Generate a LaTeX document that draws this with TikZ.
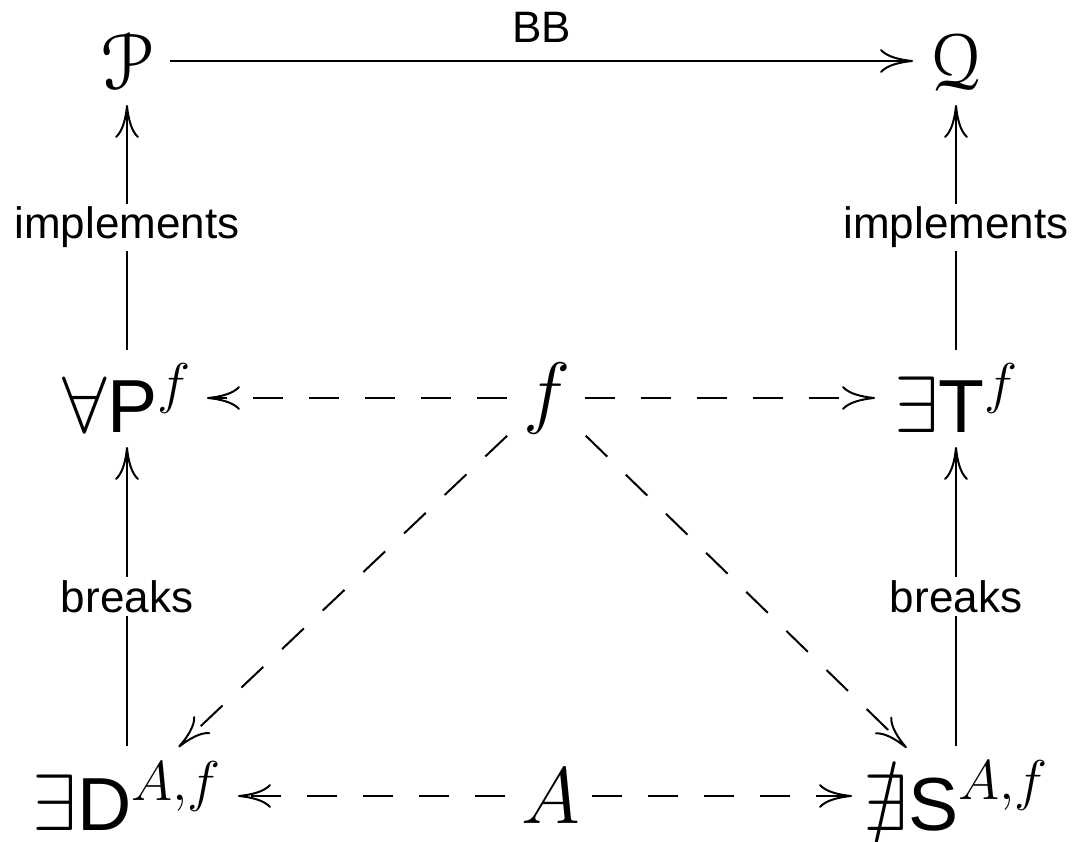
\RequirePackage{fix-cm}
\documentclass[tikz,border=0pt]{standalone}
\usepackage{amssymb}
\usepackage[mathcal]{euscript}
\usepackage{fontspec}
\newfontfamily\hv[Scale=0.94]{Liberation Sans}
\newfontfamily\labfont{Liberation Sans}
\usetikzlibrary{arrows.meta,calc}
\begin{document}
\begin{tikzpicture}[x=1pt,y=-1pt,
  obj/.style={inner sep=0pt, font=\fontsize{80}{96}\selectfont},
  lbl/.style={inner sep=3pt, fill=white, font=\labfont\fontsize{44}{52}\selectfont},
  arr/.style={line width=2pt, -{Computer Modern Rightarrow[length=33pt,width=24pt]}},
  darr/.style={arr, dash pattern=on 30pt off 26pt}]
\useasboundingbox (0,0) rectangle (1076,842);
\node[obj] (P) at (127,61) {$\mathcal{P}$};
\node[obj] (Q) at (956,61) {$\mathcal{Q}$};
\node[obj] (AP) at (127,398) {$\forall\mbox{\hv P}^{f}$};
\node[obj] (f) at (547,398) {$f$};
\node[obj] (ET) at (956,398) {$\exists\mbox{\hv T}^{f}$};
\node[obj] (D) at (127,796) {$\exists\mbox{\hv D}^{A,f}$};
\node[obj] (A) at (551,796) {$A$};
\node[obj] (S) at (956,796) {$\nexists\mbox{\hv S}^{A,f}$};
% top
\draw[arr] ($(P)!43pt!(Q)$) -- ($(Q)!43pt!(P)$)
  node[midway, yshift=34pt, inner sep=0pt, font=\labfont\fontsize{44}{52}\selectfont] (bb) {BB};
% verticals
\draw[arr] ($(AP)!48pt!(P)$) -- ($(P)!44pt!(AP)$) node[lbl, midway] (l1) {implements};
\draw[arr] ($(ET)!48pt!(Q)$) -- ($(Q)!44pt!(ET)$) node[lbl, midway] (l2) {implements};
\draw[arr] ($(D)!50pt!(AP)$) -- ($(AP)!49pt!(D)$) node[lbl, midway] (l3) {breaks};
\draw[arr] ($(S)!50pt!(ET)$) -- ($(ET)!49pt!(S)$) node[lbl, midway] (l4) {breaks};
% dashed
\draw[darr] ($(f)!40pt!(AP)$) -- ($(AP)!80pt!(f)$);
\draw[darr] ($(f)!38pt!(ET)$) -- ($(ET)!81pt!(f)$);
\draw[darr] ($(A)!46pt!(D)$) -- ($(D)!111pt!(A)$);
\draw[darr] ($(A)!41pt!(S)$) -- ($(S)!104pt!(A)$);
\draw[darr] ($(f)!55pt!(D)$) -- ($(D)!71pt!(f)$);
\draw[darr] ($(f)!54pt!(S)$) -- ($(S)!69pt!(f)$);
\end{tikzpicture}
\end{document}
